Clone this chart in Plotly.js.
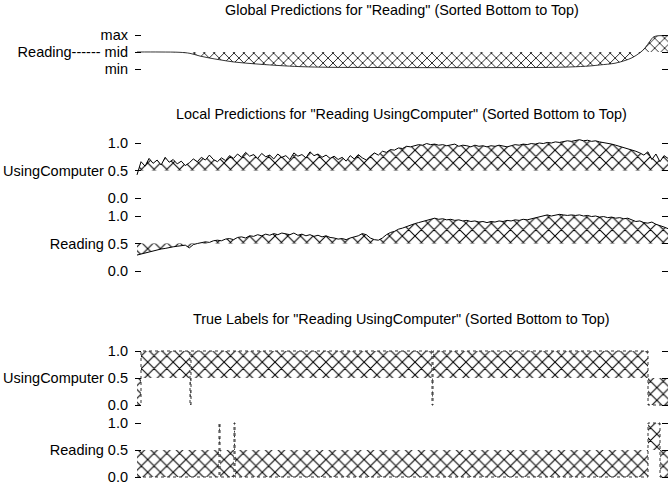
<!DOCTYPE html>
<html>
<head>
<meta charset="utf-8">
<script src="https://cdn.plot.ly/plotly-3.0.1.min.js"></script>
<style>html,body{margin:0;padding:0;background:#fff;}#chart{width:670px;height:487px;}</style>
</head>
<body>
<div id="chart"></div>
<script>
// ---------- DATA (sample rank 0..531, sorted bottom to top) ----------
const globalX = [0, 23, 43, 53, 63, 73, 83, 96, 110, 123, 143, 163, 193, 233, 283, 343, 403, 433, 453, 463, 478, 488, 495, 503, 508, 513, 517, 531];
const globalReading = [0.50, 0.50, 0.49, 0.46, 0.38, 0.32, 0.27, 0.21, 0.17, 0.14, 0.10, 0.07, 0.05, 0.045, 0.04, 0.04, 0.045, 0.06, 0.09, 0.12, 0.17, 0.25, 0.33, 0.48, 0.62, 0.82, 0.95, 0.98];

const localUsingComputer = [
 0.42,0.66,0.58,0.72,0.63,0.69,0.60,0.74,0.65,0.70,0.62,0.67,0.59,0.64,0.71,0.66,
 0.74,0.69,0.78,0.70,0.66,0.73,0.68,0.77,0.72,0.80,0.74,0.83,0.76,0.79,0.72,0.81,
 0.75,0.78,0.71,0.80,0.74,0.77,0.70,0.82,0.76,0.79,0.73,0.84,0.77,0.80,0.74,0.78,
 0.72,0.76,0.70,0.74,0.67,0.77,0.71,0.79,0.73,0.69,0.76,0.82,0.78,0.85,0.83,0.88,
 0.87,0.91,0.90,0.94,0.93,0.95,0.97,0.96,0.99,0.97,0.98,0.96,0.97,0.95,0.96,0.98,
 0.94,0.96,0.95,0.93,0.96,0.94,0.95,0.93,0.95,0.94,0.96,0.95,0.93,0.95,0.97,0.96,
 0.98,0.97,0.99,0.98,1.00,0.99,1.01,1.00,1.02,1.01,1.03,1.04,1.03,1.05,1.06,1.04,
 1.05,1.03,1.04,1.02,1.01,0.99,0.98,0.96,0.94,0.92,0.90,0.87,0.85,0.82,0.78,0.84,
 0.70,0.80,0.66,0.77,0.72];

const localReading = [
 0.29,0.31,0.33,0.35,0.36,0.38,0.40,0.41,0.43,0.44,0.45,0.46,0.47,0.42,0.48,0.50,
 0.52,0.53,0.52,0.55,0.56,0.55,0.58,0.59,0.57,0.61,0.62,0.60,0.64,0.63,0.66,0.64,
 0.67,0.65,0.68,0.66,0.69,0.67,0.66,0.69,0.65,0.67,0.64,0.66,0.63,0.65,0.62,0.64,
 0.61,0.60,0.58,0.59,0.57,0.60,0.62,0.64,0.68,0.66,0.60,0.57,0.56,0.60,0.66,0.70,
 0.72,0.76,0.78,0.81,0.84,0.86,0.88,0.90,0.93,0.95,0.96,0.94,0.95,0.93,0.94,0.92,
 0.93,0.91,0.92,0.90,0.91,0.89,0.90,0.88,0.90,0.89,0.91,0.90,0.92,0.91,0.93,0.92,
 0.94,0.93,0.95,0.97,0.99,1.01,1.02,1.00,1.01,1.03,1.02,1.01,1.02,1.01,1.02,1.00,
 1.01,0.99,1.00,0.98,0.99,0.97,0.98,0.96,0.97,0.95,0.96,0.93,0.90,0.91,0.88,0.87,
 0.89,0.85,0.83,0.80,0.77];

// true labels as step runs: run start rank -> label value
const trueUsingComputerX = [0, 4, 53, 54, 295, 296, 511, 531];
const trueUsingComputer  = [0, 1, 0, 1, 0, 1, 0, 0];
const trueReadingX = [0, 82, 83, 97, 98, 511, 523, 531];
const trueReading  = [0, 1, 0, 1, 0, 1, 0, 0];

const titles = [
  'Global Predictions for "Reading" (Sorted Bottom to Top)',
  'Local Predictions for "Reading UsingComputer" (Sorted Bottom to Top)',
  'True Labels for "Reading UsingComputer" (Sorted Bottom to Top)'
];
const globalTickText = ['min', 'Reading------ mid', 'max'];
const ucTickText = ['0.0', 'UsingComputer 0.5', '1.0'];
const rdTickText = ['0.0', 'Reading 0.5', '1.0'];
const tickVals = [0, 0.5, 1];
const MID = 0.5;

// ---------- BUILD ----------
const H = 487;
const FONT = 'Liberation Sans, Arial, Helvetica, sans-serif';
function evenX(n){ const a=[]; for(let i=0;i<n;i++) a.push(i*531/(n-1)); return a; }
function pat(size){ return {shape:'x', size:size, solidity:0.22, fgcolor:'#000', bgcolor:'#fff', fillmode:'replace'}; }

const traces = [];
function addPanel(idx, xs, ys, shape, size, lineStyle){
  const xa = idx===1 ? 'x' : 'x'+idx, ya = idx===1 ? 'y' : 'y'+idx;
  traces.push({x:[xs[0], xs[xs.length-1]], y:[MID, MID], xaxis:xa, yaxis:ya, mode:'lines',
    line:{width:0, color:'rgba(0,0,0,0)'}, hoverinfo:'skip', showlegend:false});
  traces.push({x:xs, y:ys, xaxis:xa, yaxis:ya, mode:'lines', fill:'tonexty',
    line:Object.assign({shape:shape}, lineStyle), fillcolor:'#fff', fillpattern:pat(size),
    hoverinfo:'skip', showlegend:false});
}
addPanel(1, globalX, globalReading, 'spline', 7, {color:'#000', width:0.8});
addPanel(2, evenX(localUsingComputer.length), localUsingComputer, 'linear', 9, {color:'#000', width:1});
addPanel(3, evenX(localReading.length), localReading, 'linear', 9, {color:'#000', width:1});
addPanel(4, trueUsingComputerX, trueUsingComputer, 'hv', 9, {color:'#333', width:1, dash:'dot'});
addPanel(5, trueReadingX, trueReading, 'hv', 9, {color:'#333', width:1, dash:'dot'});

// pixel positions of value 0 and 1 for each panel, and value range
const panels = [
  {p0:69, p1:35, r:[-0.05,1.05], tt:globalTickText},
  {p0:198, p1:143, r:[-0.05,1.1], tt:ucTickText},
  {p0:271, p1:216, r:[-0.05,1.1], tt:rdTickText},
  {p0:405, p1:351, r:[-0.03,1.03], tt:ucTickText},
  {p0:477, p1:423, r:[-0.03,1.03], tt:rdTickText}
];
const layout = {
  width:670, height:487, margin:{l:135, r:2, t:0, b:0},
  paper_bgcolor:'#fff', plot_bgcolor:'#fff', showlegend:false,
  font:{family:FONT, size:14.5, color:'#000'}, annotations:[]
};
panels.forEach((p, i) => {
  const unit = p.p0 - p.p1;
  const bot = p.p0 - p.r[0]*unit, top = p.p0 - p.r[1]*unit;
  const n = i===0 ? '' : String(i+1);
  layout['xaxis'+n] = {domain:[0,1], range:[-2,531], visible:false, anchor:'y'+n, fixedrange:true};
  layout['yaxis'+n] = {domain:[1-bot/H, 1-top/H], range:p.r, anchor:'x'+n,
    tickvals:tickVals, ticktext:p.tt, ticks:'inside', ticklen:6, tickwidth:1, tickcolor:'#000',
    mirror:'ticks', showline:false, showgrid:false, zeroline:false,
    tickfont:{family:FONT, size:14.5, color:'#000'}, ticklabelstandoff:6, fixedrange:true};
});
const titleY = [10, 114, 319];
titles.forEach((t, i) => layout.annotations.push({text:t, xref:'paper', yref:'paper', x:0.5, y:1-titleY[i]/H,
  xanchor:'center', yanchor:'middle', showarrow:false, font:{family:FONT, size:14.4, color:'#000'}}));

Plotly.newPlot('chart', traces, layout, {staticPlot:true, displayModeBar:false});
</script>
</body>
</html>
